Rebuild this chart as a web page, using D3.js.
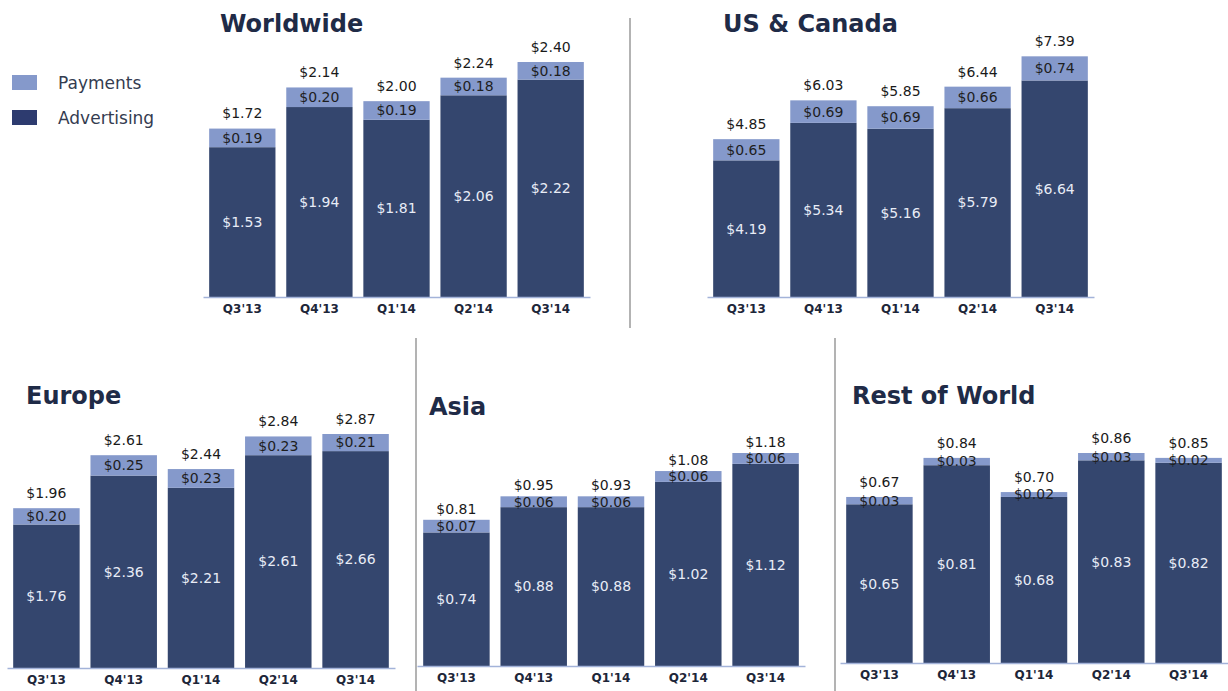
<!DOCTYPE html>
<html>
<head>
<meta charset="utf-8">
<script src="https://cdn.jsdelivr.net/npm/d3@7"></script>
<style>
  body { margin: 0; background: #fff; }
  svg text { font-family: "DejaVu Sans", Verdana, sans-serif; }
</style>
</head>
<body>
<svg id="chart" width="1228" height="691"></svg>
<script>
// Quarters shown in every panel
var quarters = ["Q3'13", "Q4'13", "Q1'14", "Q2'14", "Q3'14"];

// ARPU by region (USD)
var worldAds      = [1.53, 1.94, 1.81, 2.06, 2.22];
var worldPayments = [0.19, 0.20, 0.19, 0.18, 0.18];
var worldTotals   = [1.72, 2.14, 2.00, 2.24, 2.40];

var usAds      = [4.19, 5.34, 5.16, 5.79, 6.64];
var usPayments = [0.65, 0.69, 0.69, 0.66, 0.74];
var usTotals   = [4.85, 6.03, 5.85, 6.44, 7.39];

var europeAds      = [1.76, 2.36, 2.21, 2.61, 2.66];
var europePayments = [0.20, 0.25, 0.23, 0.23, 0.21];
var europeTotals   = [1.96, 2.61, 2.44, 2.84, 2.87];

var asiaAds      = [0.74, 0.88, 0.88, 1.02, 1.12];
var asiaPayments = [0.07, 0.06, 0.06, 0.06, 0.06];
var asiaTotals   = [0.81, 0.95, 0.93, 1.08, 1.18];

var rowAds      = [0.65, 0.81, 0.68, 0.83, 0.82];
var rowPayments = [0.03, 0.03, 0.02, 0.03, 0.02];
var rowTotals   = [0.67, 0.84, 0.70, 0.86, 0.85];

var seriesNames = ["Payments", "Advertising"];

var colors = {
  ads: "#34466e",
  payments: "#8599cb",
  title: "#1f2b47",
  axis: "#a3b3d9",
  sep: "#b3b3b3"
};

var svg = d3.select("#chart");
var fmt = function(v) { return "$" + d3.format(".2f")(v); };

// Panel layout: x extent of the axis, baseline, top of the tallest bar
var panels = [
  {title: "Worldwide", ads: worldAds, pay: worldPayments, tot: worldTotals,
   x0: 203, x1: 590, base: 297, top: 62, titleX: 220, titleY: 32, gap: 15},
  {title: "US & Canada", ads: usAds, pay: usPayments, tot: usTotals,
   x0: 707, x1: 1094, base: 297, top: 56, titleX: 723, titleY: 32, gap: 15},
  {title: "Europe", ads: europeAds, pay: europePayments, tot: europeTotals,
   x0: 7, x1: 395, base: 668, top: 434, titleX: 26, titleY: 404, gap: 15},
  {title: "Asia", ads: asiaAds, pay: asiaPayments, tot: asiaTotals,
   x0: 417, x1: 805, base: 666, top: 453, titleX: 429, titleY: 415, gap: 11},
  {title: "Rest of World", ads: rowAds, pay: rowPayments, tot: rowTotals,
   x0: 840, x1: 1228, base: 663, top: 453, titleX: 852, titleY: 404, gap: 15}
];

// Separator lines between panels
var seps = [[630, 18, 328], [416, 338, 691], [835, 338, 691]];
svg.selectAll("line.sep").data(seps).enter().append("line")
  .attr("class", "sep")
  .attr("x1", function(d) { return d[0]; })
  .attr("x2", function(d) { return d[0]; })
  .attr("y1", function(d) { return d[1]; })
  .attr("y2", function(d) { return d[2]; })
  .attr("stroke", colors.sep)
  .attr("stroke-width", 2);

panels.forEach(drawPanel);
drawLegend();

function drawPanel(p) {
  var g = svg.append("g");

  var x = d3.scaleBand()
    .domain(quarters)
    .range([p.x0, p.x1])
    .paddingInner(0.14)
    .paddingOuter(0.08);

  var y = d3.scaleLinear()
    .domain([0, d3.max(p.tot)])
    .range([p.base, p.top]);

  var rows = quarters.map(function(q, i) {
    return {q: q, ads: p.ads[i], pay: p.pay[i], tot: p.tot[i]};
  });

  // advertising segment
  g.selectAll("rect.ads").data(rows).enter().append("rect")
    .attr("x", function(d) { return x(d.q); })
    .attr("width", x.bandwidth())
    .attr("y", function(d) { return y(d.ads); })
    .attr("height", function(d) { return y(0) - y(d.ads); })
    .attr("fill", colors.ads);

  // payments segment on top
  g.selectAll("rect.pay").data(rows).enter().append("rect")
    .attr("x", function(d) { return x(d.q); })
    .attr("width", x.bandwidth())
    .attr("y", function(d) { return y(d.ads + d.pay); })
    .attr("height", function(d) { return y(d.ads) - y(d.ads + d.pay); })
    .attr("fill", colors.payments);

  // axis with category labels
  var axis = g.append("g")
    .attr("transform", "translate(0," + p.base + ")")
    .call(d3.axisBottom(x).tickSize(0).tickSizeOuter(0).tickPadding(7));
  axis.select(".domain").attr("stroke", colors.axis).attr("stroke-width", 1.5);
  axis.selectAll("text")
    .attr("font-size", 12)
    .attr("font-weight", "bold")
    .attr("font-family", "DejaVu Sans, sans-serif")
    .attr("fill", "#1d2639");

  // advertising value labels (white, centered)
  g.selectAll("text.adl").data(rows).enter().append("text")
    .attr("x", function(d) { return x(d.q) + x.bandwidth() / 2; })
    .attr("y", function(d) { return (y(0) + y(d.ads)) / 2; })
    .attr("dy", "0.35em")
    .attr("text-anchor", "middle")
    .attr("font-size", 14)
    .attr("fill", "#e8ecf6")
    .text(function(d) { return fmt(d.ads); });

  // payments value labels
  g.selectAll("text.pl").data(rows).enter().append("text")
    .attr("x", function(d) { return x(d.q) + x.bandwidth() / 2; })
    .attr("y", function(d) { return (y(d.ads) + y(d.ads + d.pay)) / 2; })
    .attr("dy", "0.35em")
    .attr("text-anchor", "middle")
    .attr("font-size", 14)
    .attr("fill", "#1e1e1e")
    .text(function(d) { return fmt(d.pay); });

  // totals above the bar
  g.selectAll("text.tl").data(rows).enter().append("text")
    .attr("x", function(d) { return x(d.q) + x.bandwidth() / 2; })
    .attr("y", function(d) { return y(d.ads + d.pay) - p.gap; })
    .attr("dy", "0.35em")
    .attr("text-anchor", "middle")
    .attr("font-size", 14)
    .attr("fill", "#1a1a1a")
    .text(function(d) { return fmt(d.tot); });

  g.append("text")
    .attr("x", p.titleX)
    .attr("y", p.titleY)
    .attr("font-size", 24)
    .attr("font-weight", "bold")
    .attr("fill", colors.title)
    .text(p.title);
}

function drawLegend() {
  var leg = svg.append("g").attr("transform", "translate(12,75)");
  var swatch = [colors.payments, "#2d3b6f"];
  var item = leg.selectAll("g").data(seriesNames).enter().append("g")
    .attr("transform", function(d, i) { return "translate(0," + i * 35 + ")"; });
  item.append("rect")
    .attr("width", 25)
    .attr("height", 15)
    .attr("fill", function(d, i) { return swatch[i]; });
  item.append("text")
    .attr("x", 46)
    .attr("y", 8)
    .attr("dy", "0.35em")
    .attr("font-size", 17)
    .attr("fill", "#343c50")
    .text(function(d) { return d; });
}
</script>
</body>
</html>
